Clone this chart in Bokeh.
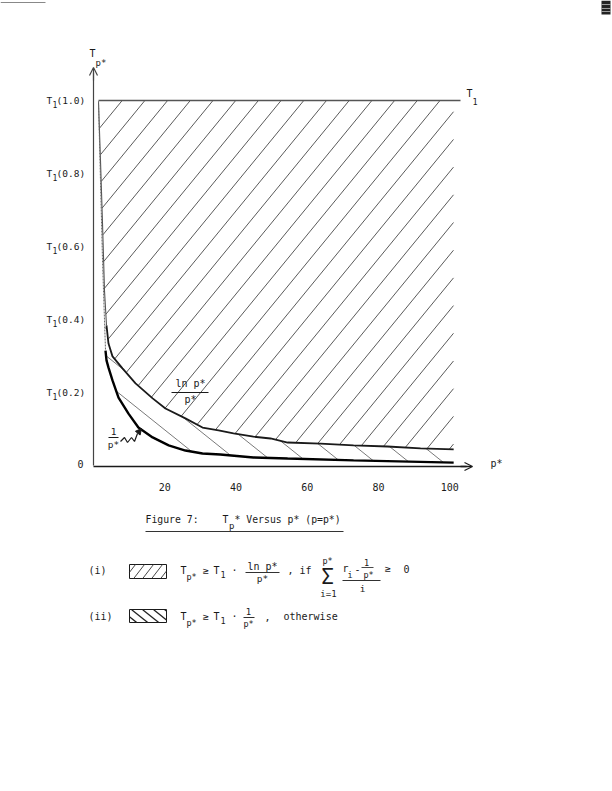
import numpy as np
from bokeh.plotting import figure
from bokeh.models import Label, Arrow, OpenHead, NormalHead
from bokeh.embed import file_html
from bokeh.resources import INLINE

# ---------------- data ----------------
p_ticks = [20, 40, 60, 80, 100]
t_levels = [0.2, 0.4, 0.6, 0.8, 1.0]
t_labels = ["(0.2)", "(0.4)", "(0.6)", "(0.8)", "(1.0)"]
t1_level = 1.0

# upper boundary curve  (ln p*)/p*
ln_p = [1.40, 1.96, 2.53, 3.09, 3.65, 4.21, 5.33, 8.14, 11.8, 16.6, 20.2, 25.8,
        30.6, 35.1, 39.3, 44.9, 49.7, 54.5, 63.7, 73.0, 82.5, 91.8, 101.1]
ln_t = [0.997, 0.836, 0.663, 0.479, 0.384, 0.334, 0.299, 0.266, 0.225, 0.184,
        0.156, 0.129, 0.104, 0.096, 0.088, 0.079, 0.074, 0.063, 0.060, 0.055,
        0.052, 0.047, 0.044]

# lower boundary curve  1/p*
inv_p = [1.40, 1.96, 2.53, 3.09, 3.37, 3.65, 4.21, 5.33, 7.02, 9.82, 12.6, 16.6,
         21.1, 25.8, 30.6, 35.6, 44.9, 54.5, 73.0, 101.1]
inv_t = [0.997, 0.781, 0.562, 0.397, 0.315, 0.288, 0.268, 0.233, 0.186, 0.142,
         0.104, 0.077, 0.055, 0.041, 0.033, 0.030, 0.022, 0.019, 0.014, 0.008]

# ---------------- layout ----------------
W, H = 612, 783
OFF = 0.0                 # canvas origin on the page
X0, SX = 93.0, 3.5625     # page px of p*=0, px per unit
Y0, SY = 465.0, 365.0     # page px of T=0, px per unit


def dx(px):
    return (px - X0) / SX


def dy(py):
    return (Y0 - py) / SY


def to_px(v):
    return X0 + SX * np.asarray(v, dtype=float)


def to_py(v):
    return Y0 - SY * np.asarray(v, dtype=float)


FONT = "DejaVu Sans Mono"
INK = "#1a1a1a"

p = figure(width=W, height=H, output_backend="svg", toolbar_location=None,
           x_range=(dx(OFF), dx(OFF + W)), y_range=(dy(OFF + H), dy(OFF)),
           x_axis_location=None, y_axis_location=None, min_border=0,
           background_fill_color="white", border_fill_color="white")
p.outline_line_color = None
p.xgrid.visible = False
p.ygrid.visible = False


def txt(x, y, s, size=10, align="left", color=INK):
    p.add_layout(Label(x=dx(x), y=dy(y), text=s, text_font=FONT,
                       text_font_size=f"{size}px", text_align=align,
                       text_baseline="middle", text_color=color))


def hline(x1, x2, y, w=1.0, color=INK):
    p.line([dx(x1), dx(x2)], [dy(y), dy(y)], line_color=color, line_width=w)


def hatch(xa, xb, top_fn, bot_fn, k, spacing, x_ref, y_ref, sign):
    """Straight hatch lines clipped between top_fn(px) and bot_fn(px) (page px)."""
    xs_all, ys_all = [], []
    xs = np.arange(xa, xb + 0.01, 0.2)
    top = top_fn(xs)
    bot = bot_fn(xs)
    for n in range(-80, 80):
        x0 = x_ref + n * spacing
        ys = y_ref - sign * k * (xs - x0)
        inside = ((ys >= top) & (ys <= bot)).astype(int)
        edges = np.flatnonzero(np.diff(np.concatenate([[0], inside, [0]])))
        for a, b in zip(edges[::2], edges[1::2]):
            b = b - 1
            if b - a < 2:
                continue
            xs_all.append([dx(xs[a]), dx(xs[b])])
            ys_all.append([dy(ys[a]), dy(ys[b])])
    return xs_all, ys_all


ln_px, ln_py = to_px(ln_p), to_py(ln_t)
inv_px, inv_py = to_px(inv_p), to_py(inv_t)
t1_py = float(to_py(t1_level))

# ---------------- hatched regions ----------------
hx, hy = hatch(ln_px[0], ln_px[-1],
               lambda x: np.full_like(x, t1_py),
               lambda x: np.interp(x, ln_px, ln_py),
               k=1.22, spacing=22.7, x_ref=121.7, y_ref=t1_py, sign=1)
p.multi_line(hx, hy, line_color="#333333", line_width=0.9, line_alpha=0.9)

lx, ly = hatch(inv_px[0], inv_px[-1],
               lambda x: np.interp(x, ln_px, ln_py),
               lambda x: np.interp(x, inv_px, inv_py),
               k=0.8, spacing=34.0, x_ref=282.0, y_ref=442.0, sign=-1)
p.multi_line(lx, ly, line_color="#5a5a5a", line_width=0.9, line_alpha=0.9)

# T1 level line
p.line([ln_p[0], dx(460)], [t1_level, t1_level], line_color="#555555", line_width=1.3)

# curves: thin near-vertical start, heavy lower part
cut_ln = 4
cut_inv = 4
p.line(ln_p[:cut_ln + 1], ln_t[:cut_ln + 1], line_color="#555555", line_width=1.1)
p.line(ln_p[cut_ln:], ln_t[cut_ln:], line_color=INK, line_width=1.8)
p.line(inv_p[:cut_inv + 1], inv_t[:cut_inv + 1], line_color="#666666", line_width=1.0,
       line_dash="2 1")
p.line(inv_p[cut_inv:], inv_t[cut_inv:], line_color="black", line_width=2.4)

# ---------------- axes ----------------
p.line([0, 0], [0, dy(72)], line_color="#444444", line_width=1.2)
p.add_layout(Arrow(end=OpenHead(size=8, line_color="#444444", line_width=1.2),
                   x_start=0, y_start=dy(80), x_end=0, y_end=dy(67),
                   line_color="#444444", line_width=1.2))
p.line([0, dx(466)], [dy(466), dy(466)], line_color=INK, line_width=1.6)
p.add_layout(Arrow(end=OpenHead(size=8, line_color=INK, line_width=1.2),
                   x_start=dx(460), y_start=dy(466), x_end=dx(472), y_end=dy(466),
                   line_color=INK, line_width=1.6))

for v in p_ticks:
    p.add_layout(Label(x=v, y=dy(486), text=str(v), text_font=FONT,
                       text_font_size="10px", text_align="center",
                       text_baseline="middle", text_color=INK))

for v, lab in zip(t_levels, t_labels):
    yy = float(to_py(v))
    txt(46, yy, "T", size=9.5)
    txt(52, yy + 4, "1", size=8)
    txt(56, yy, lab, size=9.5)
txt(80, 463, "0", align="center")

# axis titles
txt(89, 53, "T")
txt(95, 62, "p*", size=9)
txt(466, 93, "T")
txt(472, 101, "1", size=8.5)
txt(490, 463, "p*")

# curve labels
txt(190, 383, "ln p*", align="center")
hline(171, 208, 392, w=1.0)
txt(190, 399, "p*", align="center")

txt(113, 431, "1", size=9.5, align="center")
hline(108, 118, 437, w=1.0)
txt(113, 444, "p*", size=9.5, align="center")
sq_x = [dx(v) for v in (120, 124, 127, 131, 134, 137)]
sq_y = [dy(v) for v in (441, 437, 442, 437, 441, 433)]
p.line(sq_x, sq_y, line_color=INK, line_width=1.2)
p.add_layout(Arrow(end=NormalHead(size=6, fill_color=INK, line_color=INK),
                   x_start=dx(137), y_start=dy(433), x_end=dx(141), y_end=dy(428),
                   line_color=INK, line_width=1.2))

# ---------------- caption ----------------
txt(145, 519, "Figure 7:", size=9.8)
txt(222, 519, "T", size=9.8)
txt(228.5, 525, "p", size=9)
txt(234, 519, "*  Versus p* (p=p*)", size=9.8)
hline(145, 343, 531, w=1.0, color="#333333")

# ---------------- legend swatches ----------------
bx0, bx1 = 129.0, 166.0
ya = 570
yb = 616
p.quad(left=dx(bx0), right=dx(bx1), top=dy(564), bottom=dy(578),
       fill_alpha=0, line_color=INK, line_width=1.0)
sx, sy = hatch(bx0, bx1, lambda x: np.full_like(x, 564.0), lambda x: np.full_like(x, 578.0),
               k=1.3, spacing=9.0, x_ref=135.0, y_ref=564.0, sign=1)
p.multi_line(sx, sy, line_color="#333333", line_width=0.9)
p.quad(left=dx(bx0), right=dx(bx1), top=dy(609), bottom=dy(622),
       fill_alpha=0, line_color=INK, line_width=1.0)
sx, sy = hatch(bx0, bx1, lambda x: np.full_like(x, 609.0), lambda x: np.full_like(x, 622.0),
               k=0.8, spacing=11.0, x_ref=131.0, y_ref=609.0, sign=-1)
p.multi_line(sx, sy, line_color="#222222", line_width=1.3)

# ---------------- legend row (i) ----------------
txt(88, ya, "(i)")
txt(180, ya, "T")
txt(186, ya + 6, "p*", size=8.5)
txt(202, ya, "≥")
txt(213, ya, "T")
txt(220, ya + 4, "1", size=8.5)
txt(231, ya, "·")
txt(262, ya - 4, "ln p*", align="center")
hline(245, 279, ya + 2, w=0.9)
txt(262, ya + 8, "p*", align="center", size=9.5)
txt(287, ya, ", if")
txt(327, ya + 6, "Σ", size=21, align="center")
txt(327, ya - 10, "p*", size=8.5, align="center")
txt(328, ya + 23, "i=1", size=9, align="center")
txt(342, ya - 2, "r")
txt(347, ya + 4, "i", size=8.5)
txt(354, ya - 2, "-")
txt(366, ya - 8, "1", size=8.5, align="center")
hline(361, 373, ya - 3, w=0.8)
txt(368, ya + 4, "p*", size=8.5, align="center")
hline(342, 380, ya + 10, w=0.9)
txt(362, ya + 18, "i", align="center", size=9.5)
txt(384, ya - 2, "≥")
txt(403, ya - 2, "0")

# ---------------- legend row (ii) ----------------
txt(88, yb, "(ii)")
txt(180, yb, "T")
txt(186, yb + 6, "p*", size=8.5)
txt(202, yb, "≥")
txt(213, yb, "T")
txt(220, yb + 4, "1", size=8.5)
txt(231, yb, "·")
txt(248, yb - 5, "1", size=9, align="center")
hline(243, 254, yb + 1, w=0.9)
txt(248, yb + 7, "p*", size=8.5, align="center")
txt(264, yb, ",")
txt(283, yb, "otherwise")

# ---------------- scan-edge marks of the page ----------------
hline(0, 45, 2, w=1.0, color="#888888")
p.quad(left=dx(601), right=dx(610), top=dy(0), bottom=dy(14),
       fill_color="#222222", line_color=None)
for yy in (4, 8, 11):
    hline(601, 610, yy, w=0.8, color="#bbbbbb")

open("out.html", "w").write(file_html(p, INLINE))
